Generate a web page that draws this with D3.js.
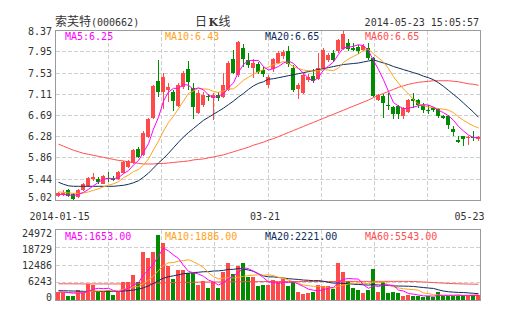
<!DOCTYPE html>
<html><head><meta charset="utf-8">
<script src="https://cdn.jsdelivr.net/npm/d3@7"></script>
<style>body{margin:0;background:#fff}svg{display:block}</style>
</head><body>
<svg id="c" width="505" height="330"></svg>
<script>
// ---------- data ----------
const stockName = "索芙特";
const stockCode = "(000662)";
const chartTitle = ["日", "K", "线"];
const timestamp = "2014-05-23 15:05:57";
const priceTicks = [8.37, 7.95, 7.53, 7.11, 6.69, 6.28, 5.86, 5.44, 5.02];
const volTicks = [24972, 18729, 12486, 6243, 0];
const dateLabels = [{i: 0, t: "2014-01-15"}, {i: 42, t: "03-21"}, {i: 84, t: "05-23"}];
const maNames = ["MA5", "MA10", "MA20", "MA60"];
const priceMaLegend = [6.25, 6.43, 6.65, 6.65];
const volMaLegend = [1653, 1886, 2221, 5543];

const open = [5.10,5.13,5.21,5.14,5.07,5.21,5.30,5.43,5.44,5.34,
5.46,5.46,5.43,5.55,5.68,5.75,6.03,5.91,6.27,6.64,
7.37,7.15,7.18,7.14,6.88,7.24,7.60,7.22,6.74,6.89,
7.07,7.03,7.08,7.05,7.19,7.80,7.48,8.02,7.78,7.62,
7.70,7.58,7.29,7.60,7.72,7.85,7.95,7.62,7.20,7.13,
7.39,7.46,7.40,7.62,7.77,7.92,7.95,8.00,8.12,8.02,
8.03,7.98,8.02,7.82,7.00,7.07,6.89,6.86,6.87,6.67,
6.76,7.02,6.99,6.89,6.80,6.84,6.82,6.68,6.67,6.41,
6.21,6.28,6.25,6.26,6.23];
const high = [5.17,5.22,5.23,5.16,5.23,5.36,5.47,5.56,5.47,5.51,
5.57,5.50,5.59,5.79,5.81,6.03,6.07,6.37,6.64,7.28,
7.78,7.53,7.32,7.19,7.33,7.56,7.76,7.32,7.19,7.14,
7.11,7.12,7.14,7.53,7.75,7.97,8.15,8.10,7.91,7.80,
7.73,7.64,7.48,7.82,7.95,7.97,8.05,7.68,7.33,7.52,
7.50,7.60,7.92,8.02,7.92,7.97,8.20,8.37,8.20,8.12,
8.08,8.10,8.12,7.84,7.11,7.11,7.12,6.88,6.90,6.86,
7.01,7.12,7.02,6.94,6.90,6.86,6.84,6.70,6.69,6.47,
6.29,6.29,6.28,6.38,6.29];
const low = [5.07,5.09,5.08,5.02,5.05,5.19,5.28,5.40,5.34,5.33,
5.38,5.39,5.41,5.54,5.66,5.73,5.84,5.89,6.25,6.62,
7.05,6.82,6.96,6.78,6.85,7.20,7.19,6.62,6.72,6.86,
6.98,6.60,6.97,7.03,7.17,7.50,7.45,7.65,7.62,7.42,
7.50,7.45,7.22,7.55,7.70,7.80,7.65,7.15,7.02,7.10,
7.35,7.33,7.38,7.60,7.74,7.74,7.92,7.97,7.95,7.95,
7.90,7.95,7.78,7.05,6.98,6.64,6.79,6.62,6.62,6.62,
6.74,6.84,6.84,6.74,6.72,6.76,6.64,6.61,6.41,6.29,
6.14,6.09,6.11,6.18,6.18];
const close = [5.15,5.16,5.10,5.04,5.21,5.34,5.45,5.48,5.37,5.50,
5.44,5.42,5.57,5.77,5.79,6.01,5.86,6.35,6.62,7.27,
7.15,7.45,7.25,6.98,7.28,7.53,7.35,6.86,7.12,7.09,
7.04,7.08,7.03,7.29,7.72,7.52,8.13,7.79,7.68,7.72,
7.55,7.51,7.45,7.80,7.92,7.93,7.70,7.19,7.29,7.49,
7.45,7.37,7.62,7.98,7.88,7.78,8.17,8.30,8.00,7.98,
7.95,8.05,7.82,7.06,7.09,6.94,6.88,6.72,6.71,6.84,
6.99,6.98,6.89,6.79,6.79,6.80,6.68,6.64,6.49,6.36,
6.16,6.23,6.27,6.25,6.26];
const ma5 = [5.13,5.13,5.12,5.11,5.13,5.17,5.23,5.30,5.37,5.43,
5.45,5.44,5.46,5.54,5.60,5.71,5.80,5.96,6.13,6.42,
6.65,6.97,7.15,7.22,7.22,7.30,7.28,7.20,7.23,7.19,
7.09,7.04,7.07,7.11,7.23,7.33,7.54,7.69,7.77,7.77,
7.77,7.65,7.58,7.61,7.65,7.72,7.76,7.71,7.61,7.52,
7.42,7.36,7.44,7.58,7.66,7.74,7.89,8.02,8.03,8.05,
8.08,8.06,7.96,7.77,7.59,7.39,7.16,6.94,6.87,6.82,
6.83,6.85,6.88,6.90,6.89,6.85,6.79,6.74,6.68,6.59,
6.47,6.38,6.30,6.25,6.25];
const ma10 = [5.18,5.17,5.16,5.15,5.15,5.16,5.18,5.21,5.24,5.28,
5.31,5.34,5.38,5.46,5.51,5.58,5.62,5.71,5.83,6.01,
6.18,6.38,6.55,6.67,6.82,6.97,7.12,7.17,7.22,7.21,
7.20,7.16,7.14,7.17,7.21,7.21,7.29,7.38,7.44,7.50,
7.55,7.59,7.64,7.69,7.71,7.75,7.71,7.65,7.61,7.58,
7.57,7.56,7.57,7.59,7.58,7.57,7.62,7.73,7.80,7.85,
7.90,7.97,7.99,7.90,7.82,7.74,7.61,7.45,7.32,7.21,
7.11,7.00,6.91,6.88,6.85,6.84,6.82,6.81,6.79,6.74,
6.66,6.59,6.53,6.48,6.44];
const ma20 = [5.37,5.33,5.30,5.29,5.29,5.29,5.29,5.29,5.29,5.29,
5.29,5.29,5.30,5.31,5.33,5.36,5.40,5.47,5.55,5.65,
5.75,5.84,5.94,6.05,6.16,6.26,6.35,6.43,6.51,6.59,
6.65,6.71,6.77,6.83,6.90,6.97,7.05,7.12,7.20,7.27,
7.32,7.35,7.40,7.41,7.43,7.45,7.47,7.49,7.51,7.53,
7.55,7.57,7.59,7.61,7.63,7.65,7.67,7.69,7.70,7.71,
7.72,7.74,7.76,7.78,7.75,7.72,7.69,7.65,7.62,7.59,
7.56,7.53,7.50,7.46,7.43,7.39,7.33,7.26,7.18,7.10,
7.02,6.93,6.84,6.75,6.65];
const ma60 = [6.12,6.08,6.04,6.00,5.97,5.94,5.92,5.90,5.88,5.86,
5.84,5.82,5.80,5.79,5.77,5.76,5.74,5.73,5.73,5.73,
5.74,5.74,5.75,5.76,5.77,5.78,5.79,5.81,5.82,5.83,
5.85,5.87,5.89,5.91,5.94,5.97,6.00,6.03,6.06,6.10,
6.13,6.16,6.20,6.23,6.27,6.31,6.35,6.39,6.43,6.47,
6.51,6.55,6.59,6.63,6.67,6.71,6.75,6.79,6.83,6.87,
6.91,6.95,6.99,7.04,7.08,7.12,7.16,7.20,7.24,7.27,
7.30,7.32,7.34,7.35,7.36,7.37,7.37,7.37,7.37,7.36,
7.35,7.33,7.31,7.30,7.28];
const volume = [2970,2970,1430,1430,3570,2970,5710,5350,2970,2970,
3570,1780,2970,6190,6190,8920,6190,16880,14620,16880,
22950,19970,11890,7490,10700,10700,9510,9510,5350,6540,
4160,6190,4160,9750,12840,9270,12130,12840,8080,7970,
4990,5350,5350,7140,6190,7370,4760,6540,2970,2140,
2620,2970,5350,4990,4990,3800,12840,9750,6540,4160,
3570,2620,3570,11060,2970,6190,2620,2970,2620,1430,
1780,1430,1430,1190,1430,1190,2850,1430,1430,1430,
1700,1600,1500,1750,1700];
const volMa5 = [2800,2800,2600,2400,2474,2474,3022,3806,4114,3994,
4114,3328,2852,3496,4140,5210,6092,8874,10560,12698,
15504,18260,17262,15836,14600,12150,10058,9582,9154,8322,
7014,6350,5280,6160,7420,8442,9630,11366,11032,10058,
9202,7846,6348,6160,5804,6280,6162,6400,5566,4756,
3806,3448,3210,3614,4184,4420,6394,7274,7584,7418,
7372,5328,4092,4996,4758,5282,5282,5162,3474,3166,
2284,2046,1738,1452,1452,1334,1618,1618,1666,1666,
1768,1518,1532,1596,1653];
const volMa10 = [2700,2700,2650,2600,2650,2650,2900,3100,3200,3234,
3294,3175,3329,3805,4067,4662,4710,5863,7028,8419,
10357,12176,13068,13198,13649,13827,14159,13422,12495,11461,
9582,8204,7431,7657,7871,7728,7990,8323,8596,8739,
8822,8738,8857,8596,7931,7741,7004,6374,5863,5280,
5043,4805,4805,4590,4470,4113,4921,5242,5599,5801,
5896,5861,5683,6290,6088,6327,5305,4627,4235,3962,
3783,3664,3450,2463,2309,1809,1832,1678,1559,1559,
1600,1650,1700,1790,1886];
const volMa20 = [3300,3250,3200,3150,3100,3050,3000,3000,3000,3000,
3000,3000,3050,3150,3300,3500,3800,4300,5000,5827,
6826,7676,8199,8502,8858,9245,9435,9643,9762,9940,
9970,10190,10250,10428,10760,10778,11075,10873,10546,10100,
9202,8471,8144,8127,7901,7735,7497,7349,7230,7010,
6933,6772,6831,6593,6201,5927,5963,5808,5731,5541,
5470,5333,5244,5440,5279,5220,5113,4935,4917,4882,
4840,4763,4567,4377,4199,4068,3569,3153,2897,2761,
2667,2616,2500,2350,2221];
const volMa60 = [5700,5700,5690,5680,5670,5660,5660,5650,5650,5650,
5650,5640,5640,5650,5660,5680,5700,5760,5820,5880,
5950,6020,6080,6120,6160,6200,6230,6260,6280,6300,
6320,6340,6350,6370,6390,6410,6430,6450,6460,6470,
6480,6490,6500,6500,6500,6500,6500,6500,6500,6500,
6500,6500,6500,6500,6500,6500,6520,6540,6550,6550,
6550,6550,6550,6560,6560,6560,6560,6560,6560,6550,
6540,6500,6420,6330,6230,6130,6030,5930,5840,5760,
5700,5650,5600,5570,5543];

// ---------- styles ----------
const MONO = "'DejaVu Sans Mono', 'Liberation Mono', monospace";
const CJK = "'Noto Sans CJK SC', sans-serif";
const TXT = "#333";
const UP = "#ff4a4a", DOWN = "#008c00";
const maColors = ["#ff00ff", "#ffa21a", "#0d2d5c", "#ff4f4f"];
const GRID = "#cfcfcf", FRAME = "#9a9a9a";

// frame pixels: main 55..480 x 30..200, volume 55..480 x 229..300
const L = 56, R = 481, T = 30, B = 200, VT = 229, VB = 300;
const n = close.length;
const svg = d3.select("#c");
svg.append("rect").attr("width", 505).attr("height", 330).attr("fill", "#fff");

const x = d3.scaleLinear().domain([0, n]).range([L, R]);
const xc = i => x(i) + 2;
const xg = d3.scaleLinear().domain([0, 8]).range([55.5, 480.5]);
const y = d3.scaleLinear().domain([priceTicks[priceTicks.length - 1], priceTicks[0]]).range([B, T]);
const yv = d3.scaleLinear().domain([0, volTicks[0]]).range([VB, VT]);
const yvLab = d3.scaleLinear().domain([0, volTicks[0]]).range([VB - 2.7, VT + 4.3]);

// ---------- header ----------
svg.append("text").attr("x", 55).attr("y", 26).attr("font-family", CJK).attr("font-size", 12).attr("fill", TXT).text(stockName);
svg.append("text").attr("x", 91).attr("y", 26).attr("font-family", MONO).attr("font-size", 10).attr("fill", TXT).text(stockCode);
const tt = svg.append("text").attr("y", 26).attr("font-size", 12).attr("fill", TXT);
tt.append("tspan").attr("x", 195).attr("font-family", CJK).text(chartTitle[0]);
tt.append("tspan").attr("x", 208.5).attr("font-family", "'DejaVu Serif', serif").attr("font-weight", "bold").attr("font-size", 11).text(chartTitle[1]);
tt.append("tspan").attr("x", 218.5).attr("font-family", CJK).text(chartTitle[2]);
svg.append("text").attr("x", 479).attr("y", 26).attr("text-anchor", "end").attr("font-family", MONO).attr("font-size", 10).attr("fill", TXT).text(timestamp);

// ---------- grids ----------
function grid(top, bottom, ys) {
  const g = svg.append("g").attr("stroke", GRID).attr("stroke-dasharray", "4,2").attr("shape-rendering", "crispEdges");
  ys.forEach(v => g.append("line").attr("x1", 56).attr("x2", 480).attr("y1", Math.round(v) + 0.5).attr("y2", Math.round(v) + 0.5));
  d3.range(1, 8).forEach(k => g.append("line").attr("x1", Math.floor(xg(k)) + 0.5).attr("x2", Math.floor(xg(k)) + 0.5).attr("y1", top + 1).attr("y2", bottom));
}
grid(T, B, priceTicks.slice(1, -1).map(y));
grid(VT, VB, volTicks.slice(1, -1).map(yv));

// ---------- y labels ----------
svg.append("g").selectAll("text").data(priceTicks).join("text")
  .attr("x", 52).attr("y", (d, i) => i === priceTicks.length - 1 ? 200.5 : y(d) + 4 + (i === 0 ? 0.8 : 0))
  .attr("text-anchor", "end").attr("font-family", MONO).attr("font-size", 10).attr("fill", TXT).text(d => d.toFixed(2));
svg.append("g").selectAll("text").data(volTicks).join("text")
  .attr("x", 52).attr("y", d => yvLab(d) + 3.8)
  .attr("text-anchor", "end").attr("font-family", MONO).attr("font-size", 10).attr("fill", TXT).text(d => d);

// ---------- x labels ----------
svg.append("g").selectAll("text").data(dateLabels).join("text")
  .attr("x", d => {
    const w = d.t.length * 6.02;
    let c = xc(d.i) - (d.i === 42 ? 3 : 0);
    c = Math.max(29.5 + w / 2, Math.min(484.5 - w / 2, c));
    return c;
  })
  .attr("y", 220).attr("text-anchor", "middle").attr("font-family", MONO).attr("font-size", 10).attr("fill", TXT).text(d => d.t);

// ---------- candles ----------
const idx = d3.range(n);
const up = i => close[i] >= open[i];
const cg = svg.append("g").attr("shape-rendering", "crispEdges");
cg.selectAll("rect.w").data(idx).join("rect").attr("class", "w")
  .attr("x", i => x(i) + 2).attr("width", 1)
  .attr("y", i => Math.round(y(high[i]))).attr("height", i => Math.max(1, Math.round(y(low[i])) - Math.round(y(high[i]))))
  .attr("fill", i => up(i) ? UP : DOWN);
cg.selectAll("rect.b").data(idx).join("rect").attr("class", "b")
  .attr("x", i => x(i)).attr("width", 4)
  .attr("y", i => Math.round(y(Math.max(open[i], close[i]))))
  .attr("height", i => Math.max(1, Math.round(y(Math.min(open[i], close[i]))) - Math.round(y(Math.max(open[i], close[i])))))
  .attr("fill", i => up(i) ? UP : DOWN);

// ---------- volume bars ----------
svg.append("g").attr("shape-rendering", "crispEdges").selectAll("rect").data(idx).join("rect")
  .attr("x", i => x(i)).attr("width", 4)
  .attr("y", i => Math.round(yv(volume[i]))).attr("height", i => VB - Math.round(yv(volume[i])))
  .attr("fill", i => up(i) ? UP : DOWN);

// ---------- MA lines ----------
function maLine(arr, ys, color) {
  svg.append("path").datum(arr)
    .attr("d", d3.line().x((d, i) => xc(i) + 0.5).y(d => ys(d)))
    .attr("fill", "none").attr("stroke", color).attr("stroke-width", 1);
}
[ma60, ma20, ma10, ma5].forEach((a, k) => maLine(a, y, maColors[3 - k]));
[volMa60, volMa20, volMa10, volMa5].forEach((a, k) => maLine(a, yv, maColors[3 - k]));

// ---------- legends ----------
maNames.forEach((nm, k) => {
  svg.append("text").attr("x", 65 + k * 100).attr("y", 40).attr("font-family", MONO).attr("font-size", 10)
    .attr("fill", maColors[k]).text(nm + ":" + priceMaLegend[k].toFixed(2));
  svg.append("text").attr("x", 65 + k * 100).attr("y", 240).attr("font-family", MONO).attr("font-size", 10)
    .attr("fill", maColors[k]).text(nm + ":" + volMaLegend[k].toFixed(2));
});

// ---------- frames ----------
svg.append("rect").attr("x", 55.5).attr("y", 30.5).attr("width", 425).attr("height", 170)
  .attr("fill", "none").attr("stroke", FRAME).attr("stroke-width", 1);
svg.append("rect").attr("x", 55.5).attr("y", 229.5).attr("width", 425).attr("height", 71)
  .attr("fill", "none").attr("stroke", FRAME).attr("stroke-width", 1);
</script>
</body></html>
